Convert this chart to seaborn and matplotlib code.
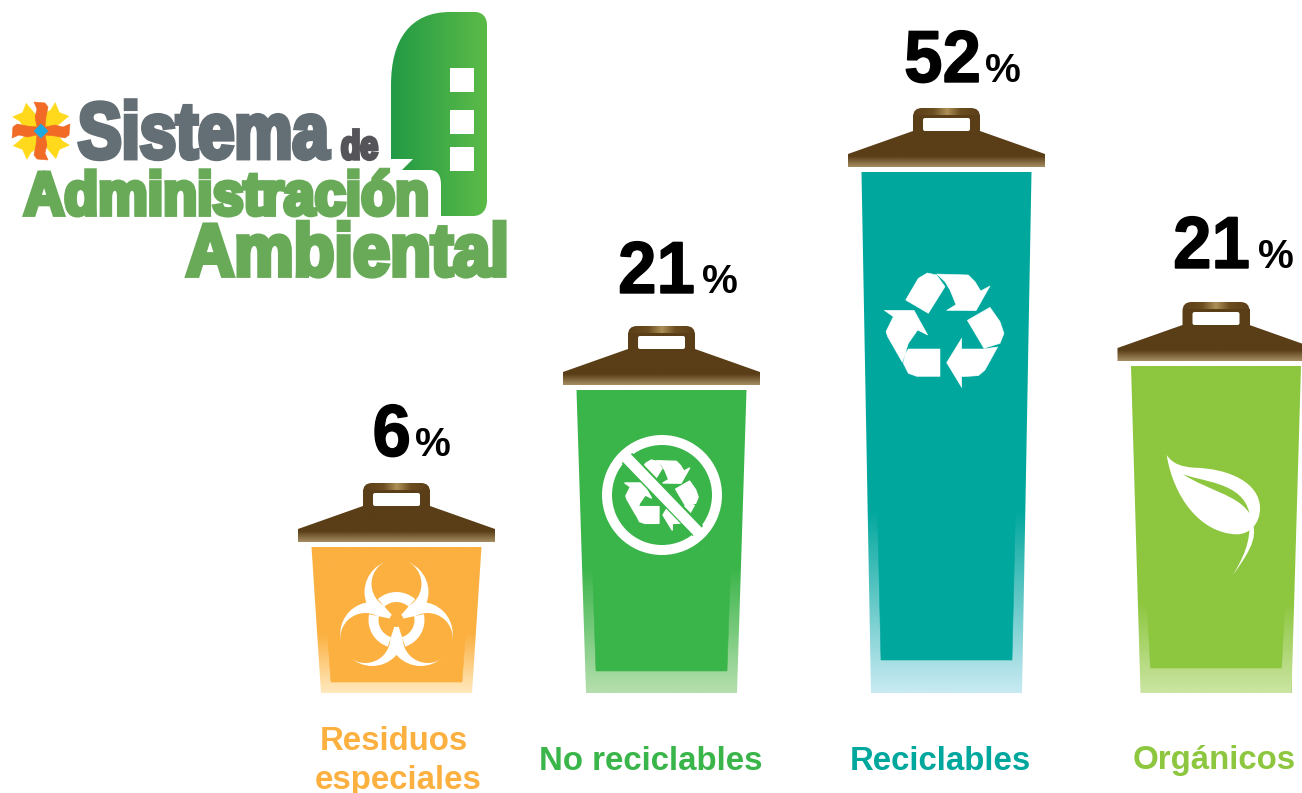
import numpy as np
import matplotlib
matplotlib.use('Agg')
import matplotlib.pyplot as plt
import seaborn as sns
from matplotlib.colors import LinearSegmentedColormap
from matplotlib.patches import Circle, FancyBboxPatch, PathPatch, Polygon, Rectangle, Wedge
from matplotlib.path import Path
from matplotlib.patheffects import AbstractPathEffect
from matplotlib.transforms import Affine2D

# data
categories = ['Residuos especiales', 'No reciclables', 'Reciclables', 'Orgánicos']
percents = [6, 21, 52, 21]
bin_heights = [146, 303, 521, 327]   # drawn height of each bin, picture is not to scale
bin_centers = [396.5, 661.5, 946.5, 1216]

# styles
bin_colors = ['#FBB040', '#3AB54A', '#00A79D', '#8DC63F']
pale_colors = ['#FFE9BE', '#B5DFAE', '#C8EAF2', '#CBE5A2']
fade_start = [60, 125, 183, 90]     # height where the side bands begin to fade
inner_bottom = [11, 22, 33, 25]
label_lines = [['Residuos', 'especiales'], ['No reciclables'], ['Reciclables'], ['Orgánicos']]
label_x = [[394, 398], [651], [940], [1214]]
label_y = [[741, 781], [761], [761], [761]]
number_right = [411, 695, 981, 1250]
pct_left = [415, 702, 985, 1258]
pct_base = [456, 293, 82, 268]

BASE = 693
WHITE = '#FFFFFF'
LID = '#5A3E17'


def py(y):
    return BASE - y


def pts(points, ox, oy, k=1 / 3):
    # zoomed picture coordinates to data coordinates
    return [(ox + k * a, py(oy + k * b)) for a, b in points]


class Squeeze(AbstractPathEffect):
    # narrows the glyphs of a text around x0, the lettering here is condensed
    def __init__(self, sx, x0, lw, color):
        super().__init__()
        self.sx, self.x0, self.lw, self.color = sx, x0, lw, color

    def draw_path(self, renderer, gc, tpath, affine, rgbFace=None):
        a = affine + Affine2D().translate(-self.x0, 0).scale(self.sx, 1).translate(self.x0, 0)
        gc0 = renderer.new_gc()
        gc0.copy_properties(gc)
        gc0.set_foreground(self.color)
        gc0.set_linewidth(self.lw)
        gc0.set_joinstyle('miter')
        renderer.draw_path(gc0, tpath, a, rgbFace)
        gc0.restore()


def gradient(ax, colors, extent, clip, vertical=True, stops=None):
    cmap = LinearSegmentedColormap.from_list('g', list(zip(stops, colors)) if stops else colors)
    ramp = np.linspace(1, 0, 256).reshape(-1, 1) if vertical else np.linspace(0, 1, 256).reshape(1, -1)
    im = ax.imshow(ramp, cmap=cmap, extent=extent, aspect='auto', zorder=2, vmin=0, vmax=1)
    clip.set_transform(ax.transData)
    im.set_clip_path(clip)


def add_poly(ax, points, color, z=3, lw=0.4):
    ax.add_patch(Polygon(points, closed=True, facecolor=color, edgecolor=color, lw=lw, zorder=z, joinstyle='round'))


def draw_lid(ax, cx, lid_y):
    shape = Polygon([(cx - 98.5, py(lid_y)), (cx - 98.5, py(lid_y - 13)), (cx - 33.5, py(lid_y - 36)),
                     (cx + 33.5, py(lid_y - 36)), (cx + 98.5, py(lid_y - 13)), (cx + 98.5, py(lid_y))])
    gradient(ax, ['#A68E62', LID, LID], (cx - 99, cx + 99, py(lid_y), py(lid_y - 36)), shape, stops=[0, 0.3, 1])
    handle = FancyBboxPatch((cx - 24.5, py(lid_y - 36)), 49, 14, boxstyle='round,pad=9,rounding_size=9')
    gradient(ax, [LID, '#6B4D20', '#AD9057', '#6B4D20', LID], (cx - 34, cx + 34, py(lid_y - 36), py(lid_y - 60)),
             handle, vertical=False, stops=[0, 0.3, 0.5, 0.7, 1])
    ax.add_patch(Rectangle((cx - 33.5, py(lid_y - 36)), 67, 16, facecolor=LID, edgecolor='none', zorder=3))
    ax.add_patch(FancyBboxPatch((cx - 22, py(lid_y - 37.5)), 44, 10, boxstyle='round,pad=1.5,rounding_size=2',
                                facecolor=WHITE, edgecolor='none', zorder=4))


def draw_recycle(ax, ox, oy, k, lw=0.4):
    pieces = [
        [(197, 600), (235, 535), (262, 519), (290, 525), (315, 560), (265, 640)],
        [(290, 522), (385, 525), (405, 545), (422, 573), (450, 558), (408, 632), (320, 631), (348, 614), (330, 570), (315, 545)],
        [(382, 661), (450, 622), (480, 665), (492, 700), (480, 730), (432, 745)],
        [(473, 741), (435, 810), (415, 827), (365, 830), (365, 862), (320, 788), (365, 715), (365, 747), (430, 747)],
        [(300, 747), (300, 829), (230, 829), (205, 820), (190, 790), (195, 762), (205, 747)],
        [(133, 631), (222, 631), (263, 705), (233, 690), (205, 730), (187, 787), (143, 710), (138, 695), (160, 650)],
    ]
    for piece in pieces:
        add_poly(ax, pts(piece, ox, oy, k), WHITE, z=5, lw=lw)


def draw_biohazard(ax, cx, cy, color):
    y0 = py(cy)
    angles = np.radians([90, 210, 330])
    for a in angles:
        ax.add_patch(Circle((cx + 28 * np.cos(a), y0 + 28 * np.sin(a)), 32, fc=WHITE, ec='none', zorder=5))
    for a in angles:
        ax.add_patch(Circle((cx + 36 * np.cos(a), y0 + 36 * np.sin(a)), 25, fc=color, ec='none', zorder=6))
    for deg in [90, 210, 330]:
        ax.add_patch(Wedge((cx, y0), 18, deg - 42, deg + 42, fc=color, ec='none', zorder=6))
        ax.add_patch(Wedge((cx, y0), 28, deg - 42, deg + 42, width=10, fc=WHITE, ec='none', zorder=7))
    ax.add_patch(Circle((cx, y0), 7, fc=color, ec='none', zorder=8))


def draw_no_recycle(ax, cx, cy, color):
    y0 = py(cy)
    ax.add_patch(Wedge((cx, y0), 60, 0, 360, width=10, fc=WHITE, ec='none', zorder=5))
    draw_recycle(ax, cx - 315 * 0.204, cy - 690 * 0.204, 0.204, lw=1.0)
    ax.plot([cx - 35, cx + 36], [y0 + 37, y0 - 36], color=color, lw=10.5, zorder=6, solid_capstyle='butt')
    ax.plot([cx - 40, cx + 40], [y0 + 42, y0 - 41], color=WHITE, lw=8, zorder=7, solid_capstyle='butt')


def draw_leaf(ax, color):
    ox, oy = 1110, 300
    c4 = Path.CURVE4
    leaf = [(170, 465), (190, 495), (220, 500), (250, 503), (360, 505), (450, 550), (450, 625),
            (450, 670), (420, 703), (380, 703), (270, 700), (190, 590), (170, 465)]
    ax.add_patch(PathPatch(Path(pts(leaf, ox, oy), [Path.MOVETO] + [c4] * 12), fc=WHITE, ec='none', zorder=5))
    vein = [(218, 522), (270, 545), (400, 545), (418, 640), (385, 585), (290, 570), (218, 522)]
    ax.add_patch(PathPatch(Path(pts(vein, ox, oy), [Path.MOVETO] + [c4] * 6), fc=color, ec='none', zorder=6))
    stem = [(415, 640), (450, 700), (430, 740), (368, 826), (415, 750), (425, 700), (415, 640)]
    ax.add_patch(PathPatch(Path(pts(stem, ox, oy), [Path.MOVETO] + [c4] * 6), fc=WHITE, ec='none', zorder=7))


def logo_text(ax, txt, left, right, base, size, color, sw):
    t = ax.text(left, py(base), txt, fontsize=size, color=color, family='Liberation Sans', weight='bold',
                ha='left', va='baseline', zorder=6)
    width = t.get_window_extent(ax.figure.canvas.get_renderer()).width
    t.set_path_effects([Squeeze((right - left) / width, left, sw, color)])


def draw_logo(ax):
    # speech bubble
    V, C = Path.LINETO, Path.CURVE4
    verts = [(391, 159), (391, 85), (391, 40), (410, 12), (450, 12), (475, 12), (482, 12), (487, 17), (487, 25),
             (487, 200), (487, 210), (482, 216), (473, 216), (441, 216), (441, 185), (441, 175), (437, 170), (430, 170),
             (402, 170), (413, 159), (391, 159)]
    codes = [Path.MOVETO, V, C, C, C, V, C, C, C, V, C, C, C, V, V, C, C, C, V, V, Path.CLOSEPOLY]
    bubble = PathPatch(Path([(a, py(b)) for a, b in verts], codes))
    gradient(ax, ['#229A45', '#5CBB48'], (391, 487, py(216), py(12)), bubble, vertical=False)
    for top in [68, 110, 147]:
        ax.add_patch(Rectangle((450, py(top + 24)), 24, 24, fc=WHITE, ec='none', zorder=4))

    # flower mark
    cx, cy = 41, py(131)
    yellow = np.array([(-5, 3), (-10, 12), (-8, 22), (-10, 30), (0, 26), (9, 30), (8, 18), (5, 3)], dtype=float)
    orange = np.array([(-4, 4), (-6, 14), (-4, 22), (-7, 29), (4, 28), (7, 24), (5, 14), (4, 4)], dtype=float)
    for deg in [45, 135, 225, 315]:
        add_poly(ax, Affine2D().rotate_deg(deg).translate(cx, cy).transform(yellow), '#FFD91C', z=3)
    for deg in [0, 90, 180, 270]:
        add_poly(ax, Affine2D().rotate_deg(deg).translate(cx, cy).transform(orange), '#F26B26', z=4)
    add_poly(ax, [(cx - 7, cy), (cx, cy + 7), (cx + 7, cy), (cx, cy - 7)], '#1FA9E1', z=5)

    logo_text(ax, 'Sistema', 78, 329, 158, 57, '#646E75', 3.5)
    logo_text(ax, 'de', 341, 378, 159, 29, '#545459', 2.5)
    logo_text(ax, 'Administración', 24, 429, 214.5, 43.5, '#68AA58', 3.5)
    logo_text(ax, 'Ambiental', 186, 509, 275.5, 53, '#68AA58', 3.5)


sns.set_style('white')
fig = plt.figure(figsize=(13.02, 7.93), dpi=100)
ax = fig.add_axes([0, 0, 1, 1])

sns.barplot(x=bin_centers, y=bin_heights, hue=categories, palette=bin_colors, native_scale=True,
            width=151 / 265, dodge=False, legend=False, ax=ax)
bars = sorted(ax.patches, key=lambda b: b.get_x())

for i, bar in enumerate(bars):
    left, w, h = bar.get_x(), bar.get_width(), bar.get_height()
    right = left + w
    cx = left + w / 2
    color, pale = bin_colors[i], pale_colors[i]

    # body tapers by about ten pixels a side, the inner part stays solid
    body = Polygon([(left, 0), (left - 9.5, h), (right + 9.5, h), (right, 0)])
    gradient(ax, [pale, color, color], (left - 10, right + 10, 0, h), body, stops=[0, fade_start[i] / h, 1])
    ib = inner_bottom[i]
    add_poly(ax, [(left + 10, ib), (left + 6.5, fade_start[i] + 1), (right - 6.5, fade_start[i] + 1), (right - 10, ib)], color)

    draw_lid(ax, cx, BASE - h - 5)

    ax.text(number_right[i], py(pct_base[i]), str(percents[i]), fontsize=53, family='Liberation Sans',
            weight='bold', ha='right', va='baseline', color='black', zorder=8,
            path_effects=[Squeeze(0.94, number_right[i], 1.0, 'black')])
    ax.text(pct_left[i], py(pct_base[i]), '%', fontsize=29, family='Liberation Sans',
            weight='bold', ha='left', va='baseline', color='black', zorder=8)

    for line, lx, ly in zip(label_lines[i], label_x[i], label_y[i]):
        ax.text(lx, py(ly), line, fontsize=23.8, family='Liberation Sans',
                weight='bold', ha='center', va='center', color=color, zorder=8)

draw_biohazard(ax, 396.5, 620, bin_colors[0])
draw_no_recycle(ax, 662, 495, bin_colors[1])
draw_recycle(ax, 840, 100, 1 / 3)
draw_leaf(ax, bin_colors[3])
draw_logo(ax)

ax.set_xlim(0, 1302)
ax.set_ylim(py(793), py(0))
ax.set_axis_off()
fig.savefig('out.png', dpi=100, facecolor='white')
